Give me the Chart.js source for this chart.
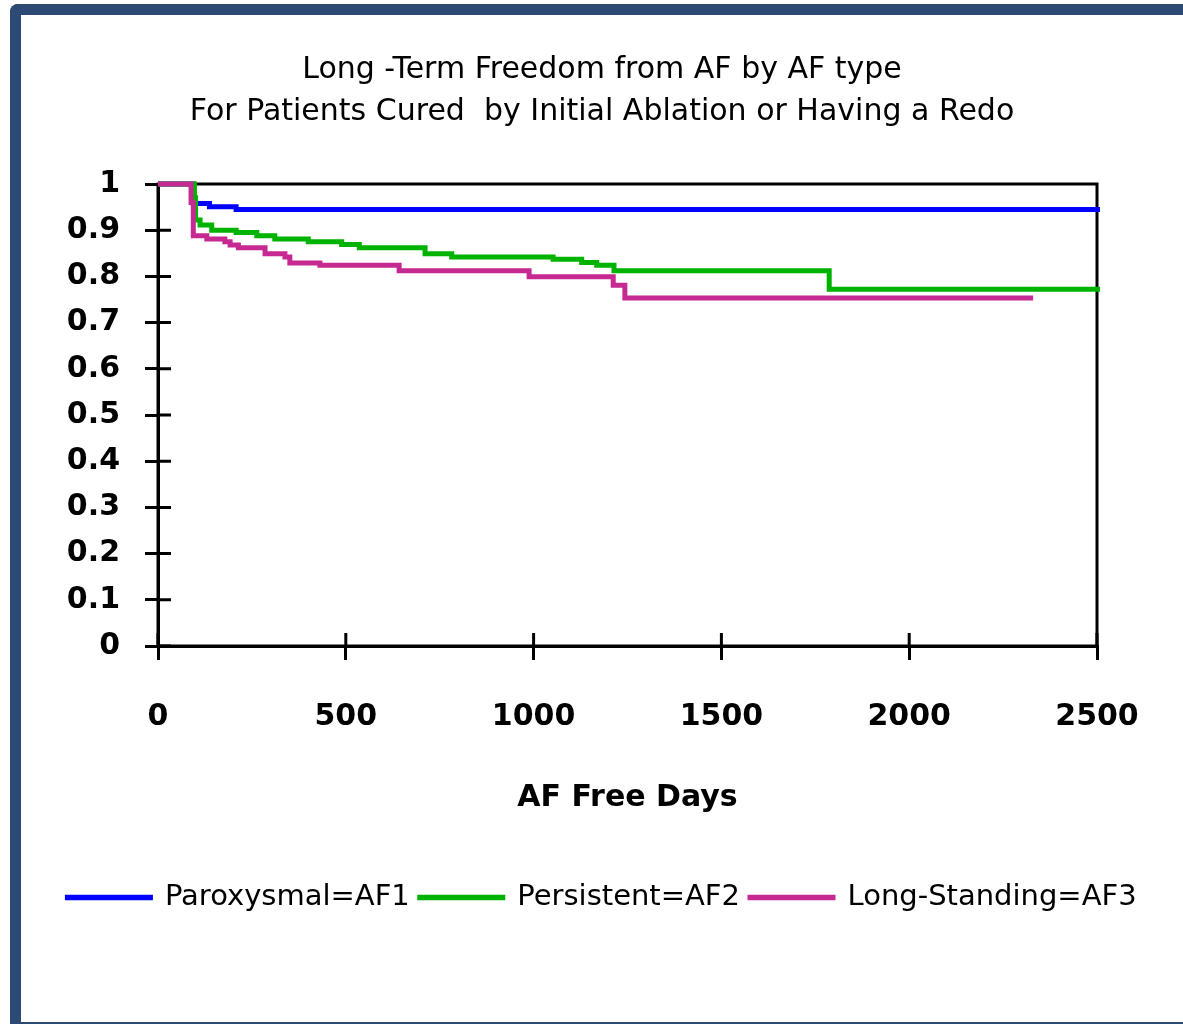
<!DOCTYPE html>
<html>
<head>
<meta charset="utf-8">
<script src="https://cdn.jsdelivr.net/npm/chart.js@4.4.1/dist/chart.umd.min.js"></script>
<style>
  html, body { margin: 0; padding: 0; background: #fff; overflow: hidden; }
  #frame {
    position: absolute; left: 10px; top: 4px; width: 1200px; height: 1007px;
    border-left: 11px solid #2c4a74; border-top: 11px solid #2c4a74; border-bottom: 2px solid #2c4a74;
    border-top-left-radius: 8px; background: #fff;
  }
  #box { position: absolute; left: 0; top: 0; width: 1162px; height: 1007px; }
</style>
</head>
<body>
<div id="frame"><div id="box"><canvas id="myChart"></canvas></div></div>
<script>
// days from start, survival free from AF
const af1Days = [0, 94, 137, 208, 2508];
const af1Surv = [1, 0.958, 0.951, 0.945, 0.945];

const af2Days = [0, 97, 100, 112, 143, 208, 263, 311, 400, 489, 536, 711, 782, 1052, 1128, 1168, 1214, 1787, 2508];
const af2Surv = [1, 0.97, 0.922, 0.911, 0.900, 0.895, 0.888, 0.881, 0.875, 0.869, 0.862, 0.849, 0.842, 0.837, 0.830, 0.824, 0.812, 0.772, 0.772];

const af3Days = [0, 88, 94, 130, 178, 192, 214, 285, 338, 351, 431, 642, 988, 1212, 1243, 2330];
const af3Surv = [1, 0.96, 0.888, 0.881, 0.875, 0.868, 0.862, 0.849, 0.842, 0.829, 0.824, 0.812, 0.799, 0.781, 0.753, 0.753];

const seriesNames = ["Paroxysmal=AF1", "Persistent=AF2", "Long-Standing=AF3"];
const titleLines = ["Long -Term Freedom from AF by AF type", "For Patients Cured  by Initial Ablation or Having a Redo"];
const xTitle = "AF Free Days";

function pts(days, surv) {
    return days.map((d, i) => ({x: d, y: surv[i]}));
}

const frameLines = {
    id: "frameLines",
    beforeDatasetsDraw(chart) {
        const {ctx, chartArea: a, scales: {x, y}} = chart;
        ctx.save();
        ctx.strokeStyle = "#000";
        ctx.lineWidth = 3;
        ctx.strokeRect(a.left, a.top, a.right - a.left, a.bottom - a.top);
        ctx.beginPath();
        y.ticks.forEach(t => {
            const p = y.getPixelForValue(t.value);
            ctx.moveTo(a.left, p);
            ctx.lineTo(a.left + 13, p);
        });
        x.ticks.forEach(t => {
            const p = x.getPixelForValue(t.value);
            ctx.moveTo(p, a.bottom);
            ctx.lineTo(p, a.bottom - 13);
        });
        ctx.stroke();
        ctx.restore();
    }
};

Chart.defaults.font.family = "'DejaVu Sans', sans-serif";
Chart.defaults.color = "#000";

var ctx = document.getElementById("myChart").getContext("2d");
var myChart = new Chart(ctx, {
    type: "line",
    data: {
        datasets: [
            {
                label: seriesNames[0],
                data: pts(af1Days, af1Surv),
                borderColor: "#0000ff",
                backgroundColor: "#0000ff",
                borderWidth: 5,
                order: 3
            },
            {
                label: seriesNames[1],
                data: pts(af2Days, af2Surv),
                borderColor: "#00b300",
                backgroundColor: "#00b300",
                borderWidth: 5,
                order: 2
            },
            {
                label: seriesNames[2],
                data: pts(af3Days, af3Surv),
                borderColor: "#c62a92",
                backgroundColor: "#c62a92",
                borderWidth: 5,
                order: 1
            }
        ]
    },
    options: {
        responsive: true,
        maintainAspectRatio: false,
        animation: false,
        layout: {
            padding: {left: 0, right: 0, top: 0, bottom: 100}
        },
        elements: {
            point: {radius: 0},
            line: {stepped: true, tension: 0, borderCapStyle: "butt"}
        },
        datasets: {
            line: {clip: 6}
        },
        plugins: {
            title: {
                display: true,
                text: titleLines,
                font: {size: 30, weight: "normal", lineHeight: 1.4},
                padding: {top: 34, bottom: 51},
                color: "#000"
            },
            legend: {
                position: "bottom",
                labels: {
                    boxWidth: 83,
                    boxHeight: 0.5,
                    padding: 10,
                    font: {size: 29},
                    color: "#000",
                    sort: (a, b) => a.datasetIndex - b.datasetIndex
                }
            },
            tooltip: {enabled: false}
        },
        scales: {
            x: {
                type: "linear",
                min: 0,
                max: 2500,
                ticks: {
                    stepSize: 500,
                    padding: 39,
                    font: {size: 30, weight: "bold"},
                    color: "#000",
                    callback: v => String(v)
                },
                grid: {drawOnChartArea: false, tickLength: 14, color: "#000", lineWidth: 3},
                border: {color: "#000", width: 3},
                title: {
                    display: true,
                    text: xTitle,
                    font: {size: 30, weight: "bold"},
                    padding: {top: 0, bottom: 57},
                    color: "#000"
                },
                afterFit: s => { s.height = 227; }
            },
            y: {
                min: 0,
                max: 1,
                ticks: {
                    stepSize: 0.1,
                    padding: 25,
                    font: {size: 30, weight: "bold"},
                    color: "#000",
                    callback: v => String(+v.toFixed(1))
                },
                grid: {drawOnChartArea: false, tickLength: 13, color: "#000", lineWidth: 3},
                border: {color: "#000", width: 3},
                afterFit: s => { s.width = 137; }
            },
            yRight: {
                position: "right",
                display: true,
                min: 0,
                max: 1,
                ticks: {display: false},
                grid: {display: false},
                border: {display: false},
                afterFit: s => { s.width = 86; }
            }
        }
    },
    plugins: [frameLines]
});
</script>
</body>
</html>
